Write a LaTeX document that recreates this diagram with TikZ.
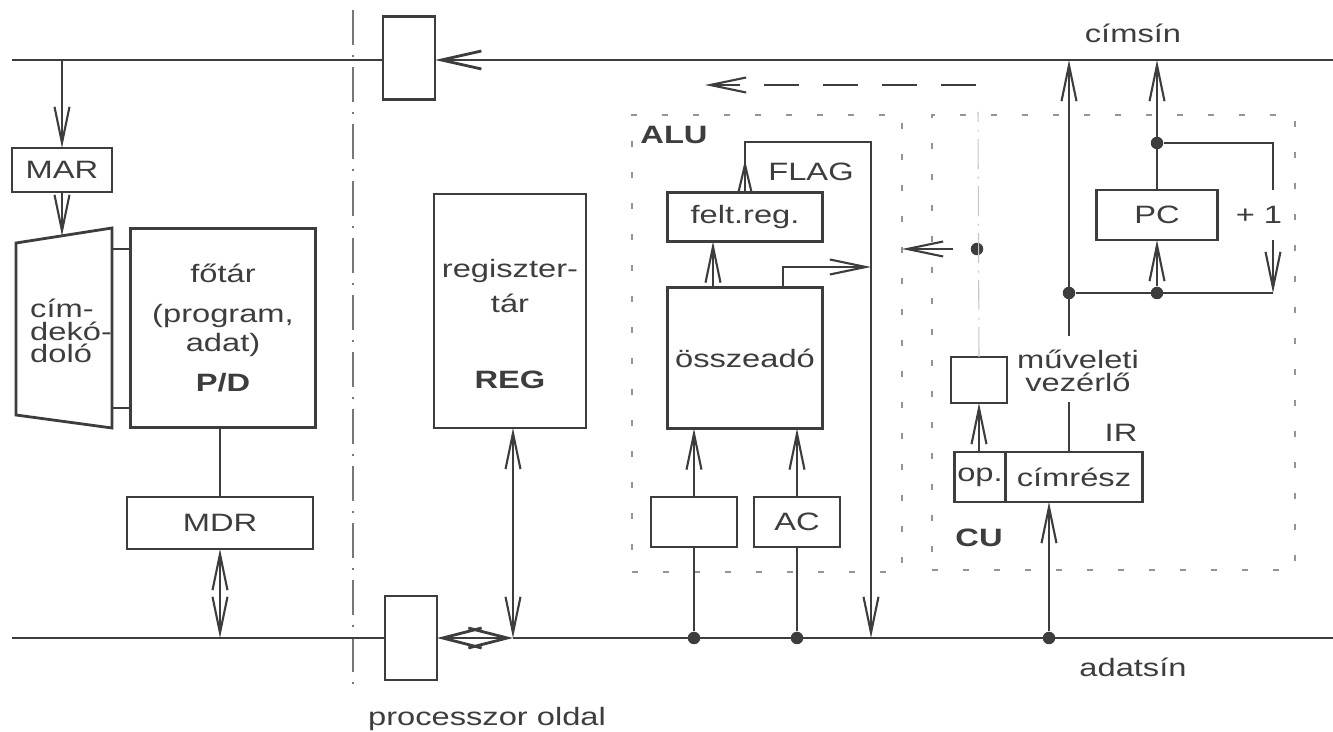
\documentclass[tikz,border=0pt]{standalone}
\usepackage{fontspec}
\setmainfont{Liberation Sans}[FakeStretch=1.3]
\usepackage{xcolor}
\usepackage{tikz}
\usetikzlibrary{arrows.meta, positioning, calc}
\definecolor{ink}{gray}{0.24}

\begin{document}
\begin{tikzpicture}[
    x=0.02cm, y=-0.02cm,
    >={Straight Barb[length=0.72cm, width=0.3cm]},
    font=\fontsize{14.3}{17}\selectfont, text=ink,
    box/.style={rectangle, draw=ink, line width=1.6pt, inner sep=0pt, outer sep=0pt, align=center},
    bus/.style={draw=ink, line width=1.6pt},
    wire/.style={draw=ink, line width=1.2pt},
    arr/.style={->, draw=ink, line width=1.2pt},
    dblarr/.style={<->, draw=ink, line width=1.2pt},
    unit/.style={rectangle, draw=ink!55, line width=0.7pt, dash pattern=on 0.12cm off 0.5cm, inner sep=0pt, outer sep=0pt},
    divider/.style={draw=ink!70, line width=0.7pt, dash pattern=on 0.7cm off 0.2cm on 0.04cm off 0.2cm},
    faint/.style={draw=ink!30, line width=0.6pt, dash pattern=on 0.6cm off 0.15cm on 0.04cm off 0.15cm},
    dot/.style={circle, fill=ink, inner sep=0pt, minimum size=0.25cm}
]
\useasboundingbox (0,0) rectangle (1333,732);

% Units (dashed frames)
\node[unit, minimum width=5.4cm, minimum height=9.14cm] (alu) at (767,343.5) {};
\node[unit, minimum width=7.26cm, minimum height=9.1cm] (cu) at (1113.5,342.5) {};

% Bus buffers
\node[box, minimum width=1.04cm, minimum height=1.66cm] (abuf) at (409,58) {};
\node[box, minimum width=1.04cm, minimum height=1.68cm] (dbuf) at (411,638) {};

% Memory side
\node[box, minimum width=2cm, minimum height=0.88cm] (mar) at (62,170) {MAR};
\node[box, minimum width=3.7cm, minimum height=3.98cm] (fotar) at (223,328)
    {főtár\\[5.7pt](program,\\adat)\\[5.7pt]\textbf{P/D}};
\node[box, minimum width=3.72cm, minimum height=1.04cm] (mdr) at (220,523) {MDR};
\node[align=left, anchor=west, font=\fontsize{14.3}{12.8}\selectfont] (dec) at (24,331) {cím-\\dekó-\\doló};

% Register file
\node[box, minimum width=3.04cm, minimum height=4.68cm] (reg) at (510,311) {};
\node[align=center] (regtxt) at (510,324) {regiszter-\\[2.7pt]tár\\[26pt]\textbf{REG}};

% ALU
\node (alulbl) at (674,135) {\textbf{ALU}};
\node[box, minimum width=3.1cm, minimum height=0.98cm] (freg) at (745,217) {felt.reg.};
\node (flaglbl) at (811,172) {FLAG};
\node[box, minimum width=3.1cm, minimum height=2.82cm] (adder) at (745,358) {összeadó};
\node[box, minimum width=1.72cm, minimum height=1.0cm] (breg) at (694,522) {};
\node[box, minimum width=1.72cm, minimum height=1.0cm] (ac) at (797,522) {AC};

% CU
\node[box, minimum width=2.42cm, minimum height=1.0cm] (pc) at (1157,215) {PC};
\node (inc) at (1259,215) {+ 1};
\node[box, minimum width=1.12cm, minimum height=0.92cm] (mv) at (979,380) {};
\node[align=center, font=\fontsize{14.3}{13}\selectfont] (mvlbl) at (1078,371) {műveleti\\vezérlő};
\node[box, minimum width=1.02cm, minimum height=1.0cm] (op) at (980,477) {op.};
\node[box, minimum width=2.74cm, minimum height=1.0cm, right=0pt of op] (cim) {címrész};
\node (irlbl) at (1121,433) {IR};
\node (culbl) at (979,538) {\textbf{CU}};

% Bus labels
\node (cimsin) at (1133,33) {címsín};
\node (adatsin) at (1133,667) {adatsín};
\node[anchor=base] (procside) at (487,726) {processzor oldal};

% Junction dots
\node[dot] (dB) at (694,638) {};
\node[dot] (dAC) at (797,638) {};
\node[dot] (dIR) at (1049,638) {};
\node[dot] (ctl) at (977,249) {};
\node[dot] (jA) at (1069,293) {};
\node[dot] (jB) at (1157,293) {};
\node[dot] (jC) at (1157,143) {};

% Coordinates
\coordinate (abl) at (12,60);
\coordinate (abr) at (1333,60);
\coordinate (dbl) at (12,638);
\coordinate (dbr) at (1333,638);
\coordinate (regtap) at (513,638);
\coordinate (martap) at (62,60);
\coordinate (dectop) at (62,236);
\coordinate (decA) at (112,249);
\coordinate (decB) at (112,408);
\coordinate (divT) at (353,10);
\coordinate (divB) at (353,684);
\coordinate (flagmid) at (745,160);
\coordinate (flagtop) at (745,142);
\coordinate (flagbus) at (871,638);
\coordinate (sumbend) at (783,267);
\coordinate (ctlarr) at (953,249);
\coordinate (ctltip) at (902,249);
\coordinate (ctltop) at (978,112);
\coordinate (ctlstart) at (976,85);
\coordinate (ctlend) at (705,85);
\coordinate (cuup) at (1069,336);
\coordinate (irup) at (1069,402);
\coordinate (jD) at (1273,293);
\coordinate (incT) at (1273,190);
\coordinate (incB) at (1273,240);

% Divider
\draw[divider] (divT) -- (divB);

% Address bus
\draw[bus] (abl) -- (abl -| abuf.west);
\draw[bus, -{Straight Barb[length=0.8cm, width=0.36cm]}] (abr) -- (abr -| abuf.east);

% Data bus
\draw[bus] (dbl) -- (dbuf.west);
\draw[bus] (regtap) -- (dbr);
\draw[bus, {Straight Barb[length=0.78cm, width=0.4cm]}-{Straight Barb[length=0.78cm, width=0.4cm]}] (dbuf.east) -- (regtap);

% Memory side
\draw[arr] (martap) -- (mar.north);
\draw[arr] (mar.south) -- (dectop);
\draw[box] (16,243) -- (112,228) -- (112,428) -- (16,415) -- cycle;
\draw[box] (decA) -- (decA -| fotar.west);
\draw[box] (decB) -- (decB -| fotar.west);
\draw[wire] (mdr.north |- fotar.south) -- (mdr.north);
\draw[dblarr] (mdr.south) -- (mdr.south |- dbl);
\draw[dblarr] (regtap |- reg.south) -- (regtap);

% ALU
\draw[arr] ([xshift=-0.64cm]adder.north) -- ([xshift=-0.64cm]freg.south);
\draw[-{Straight Barb[length=0.55cm, width=0.26cm]}, wire] (freg.north) -- (flagmid);
\draw[arr] (freg.north) -- (flagtop) -| (flagbus);
\draw[arr] (adder.north -| sumbend) -- (sumbend) -- (sumbend -| flagbus);
\draw[arr] (breg.north) -- (breg.north |- adder.south);
\draw[arr] (ac.north) -- (ac.north |- adder.south);
\draw[wire] (dB) -- (breg.south);
\draw[wire] (dAC) -- (ac.south);

% Control
\draw[arr] (ctlarr) -- (ctltip);
\draw[faint] (mv.north) -- (ctltop);
\draw[arr, dash pattern=on 0.7cm off 0.48cm] (ctlstart) -- (ctlend);

% CU
\draw[arr] (cuup) -- (cuup |- abl);
\draw[arr] (pc.north) -- (pc.north |- abl);
\draw[wire] (jC) -| (incT);
\draw[arr] (incB) -- (jD);
\draw[wire] (jD) -- (jA);
\draw[arr] (jB) -- (pc.south);
\draw[wire] (cim.north -| irup) -- (irup);
\draw[arr] (mv.south |- op.north) -- (mv.south);
\draw[arr] (dIR) -- (dIR |- cim.south);

\end{tikzpicture}
\end{document}
